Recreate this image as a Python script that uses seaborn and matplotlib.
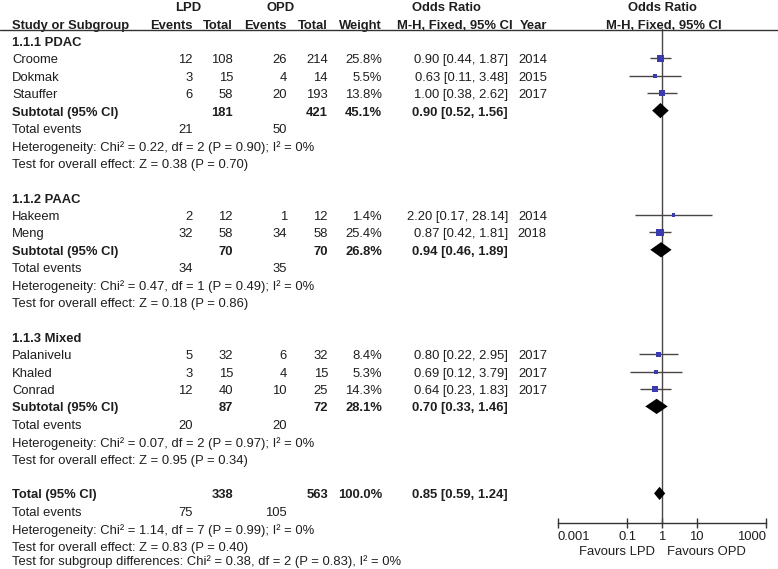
import matplotlib
matplotlib.use("Agg")
import matplotlib.pyplot as plt
import matplotlib.transforms as mtrans
import pandas as pd
import seaborn as sns

# study level data
studies = ["Croome", "Dokmak", "Stauffer", "Hakeem", "Meng", "Palanivelu", "Khaled", "Conrad"]
study_group = [0, 0, 0, 1, 1, 2, 2, 2]
lpd_events = [12, 3, 6, 2, 32, 5, 3, 12]
lpd_total = [108, 15, 58, 12, 58, 32, 15, 40]
opd_events = [26, 4, 20, 1, 34, 6, 4, 10]
opd_total = [214, 14, 193, 12, 58, 32, 15, 25]
weights = [25.8, 5.5, 13.8, 1.4, 25.4, 8.4, 5.3, 14.3]
odds = [0.90, 0.63, 1.00, 2.20, 0.87, 0.80, 0.69, 0.64]
ci_low = [0.44, 0.11, 0.38, 0.17, 0.42, 0.22, 0.12, 0.23]
ci_high = [1.87, 3.48, 2.62, 28.14, 1.81, 2.95, 3.79, 1.83]
years = [2014, 2015, 2017, 2014, 2018, 2017, 2017, 2017]

# subgroup data
sub_names = ["1.1.1 PDAC", "1.1.2 PAAC", "1.1.3 Mixed"]
sub_lpd_total = [181, 70, 87]
sub_opd_total = [421, 70, 72]
sub_weight = [45.1, 26.8, 28.1]
sub_or = [0.90, 0.94, 0.70]
sub_low = [0.52, 0.46, 0.33]
sub_high = [1.56, 1.89, 1.46]
sub_lpd_events = [21, 34, 20]
sub_opd_events = [50, 35, 20]
sub_chi = [0.22, 0.47, 0.07]
sub_df = [2, 1, 2]
sub_p_het = [0.90, 0.49, 0.97]
sub_i2 = [0, 0, 0]
sub_z = [0.38, 0.18, 0.95]
sub_p_z = [0.70, 0.86, 0.34]

# overall
tot_lpd_total, tot_opd_total, tot_weight = 338, 563, 100.0
tot_or, tot_low, tot_high = 0.85, 0.59, 1.24
tot_lpd_events, tot_opd_events = 75, 105
tot_chi, tot_df, tot_p_het, tot_i2 = 1.14, 7, 0.99, 0
tot_z, tot_p_z = 0.83, 0.40
diff_chi, diff_df, diff_p, diff_i2 = 0.38, 2, 0.83, 0

xticks = [0.001, 0.1, 1, 10, 1000]
xtick_labels = ["0.001", "0.1", "1", "10", "1000"]

sns.set_theme(style="white")
plt.rcParams['font.family'] = ['Liberation Sans', 'DejaVu Sans']

W, H = 778, 569
FS = 9.4
fig = plt.figure(figsize=(W / 100, H / 100), dpi=100)

# row r sits at y = 6.2 + 17.4 r pixels
def row_of(px):
    return (px - 6.2) / 17.4

ax = fig.add_axes([558 / W, 0, 208 / W, 1])
ax.set_xscale("log")
ax.set_xlim(0.001, 1000)
ax.set_ylim(row_of(H), row_of(0))
ax.patch.set_alpha(0)

tr = mtrans.blended_transform_factory(fig.transFigure, ax.transData)
txt_col = "#1e1e1e"
shift = 2 / 17.4  # text sits a touch lower than the row centre


def put(xpx, row, s, ha="left", bold=False):
    ax.text(xpx / W, row + shift, s, transform=tr, ha=ha, va="center", fontsize=FS,
            fontweight="bold" if bold else "normal", color=txt_col, clip_on=False)


# headers
put(188, 0, "LPD", ha="center", bold=True)
put(281, 0, "OPD", ha="center", bold=True)
put(446, 0, "Odds Ratio", ha="center", bold=True)
put(662, 0, "Odds Ratio", ha="center", bold=True)
put(12, 1, "Study or Subgroup", bold=True)
put(193, 1, "Events", ha="right", bold=True)
put(233, 1, "Total", ha="right", bold=True)
put(287, 1, "Events", ha="right", bold=True)
put(328, 1, "Total", ha="right", bold=True)
put(382, 1, "Weight", ha="right", bold=True)
put(455, 1, "M-H, Fixed, 95% CI", ha="center", bold=True)
put(547, 1, "Year", ha="right", bold=True)
put(664, 1, "M-H, Fixed, 95% CI", ha="center", bold=True)

header_row = row_of(29.5)
axis_row = row_of(523)
fig.add_artist(plt.Line2D([0, 1], [1 - 29.5 / H] * 2, color="#333333", lw=1.0))

study_rows = []
start = 2
for g, name in enumerate(sub_names):
    put(12, start, name, bold=True)
    r = start + 1
    for i in range(len(studies)):
        if study_group[i] != g:
            continue
        study_rows.append(r)
        put(12, r, studies[i])
        put(193, r, str(lpd_events[i]), ha="right")
        put(233, r, str(lpd_total[i]), ha="right")
        put(287, r, str(opd_events[i]), ha="right")
        put(328, r, str(opd_total[i]), ha="right")
        put(382, r, f"{weights[i]:.1f}%", ha="right")
        put(508, r, f"{odds[i]:.2f} [{ci_low[i]:.2f}, {ci_high[i]:.2f}]", ha="right")
        put(547, r, str(years[i]), ha="right")
        r += 1
    put(12, r, "Subtotal (95% CI)", bold=True)
    put(233, r, str(sub_lpd_total[g]), ha="right", bold=True)
    put(328, r, str(sub_opd_total[g]), ha="right", bold=True)
    put(382, r, f"{sub_weight[g]:.1f}%", ha="right", bold=True)
    put(508, r, f"{sub_or[g]:.2f} [{sub_low[g]:.2f}, {sub_high[g]:.2f}]", ha="right", bold=True)
    ax.fill([sub_low[g], sub_or[g], sub_high[g], sub_or[g]],
            [r, r - 0.44, r, r + 0.44], color="black", lw=0, zorder=4)
    put(12, r + 1, "Total events")
    put(193, r + 1, str(sub_lpd_events[g]), ha="right")
    put(287, r + 1, str(sub_opd_events[g]), ha="right")
    put(12, r + 2, f"Heterogeneity: Chi² = {sub_chi[g]:.2f}, df = {sub_df[g]} "
                   f"(P = {sub_p_het[g]:.2f}); I² = {sub_i2[g]}%")
    put(12, r + 3, f"Test for overall effect: Z = {sub_z[g]:.2f} (P = {sub_p_z[g]:.2f})")
    start = r + 5

# overall rows
r = start
put(12, r, "Total (95% CI)", bold=True)
put(233, r, str(tot_lpd_total), ha="right", bold=True)
put(328, r, str(tot_opd_total), ha="right", bold=True)
put(382, r, f"{tot_weight:.1f}%", ha="right", bold=True)
put(508, r, f"{tot_or:.2f} [{tot_low:.2f}, {tot_high:.2f}]", ha="right", bold=True)
ax.fill([tot_low, tot_or, tot_high, tot_or], [r, r - 0.38, r, r + 0.38],
        color="black", lw=0, zorder=4)
put(12, r + 1, "Total events")
put(193, r + 1, str(tot_lpd_events), ha="right")
put(287, r + 1, str(tot_opd_events), ha="right")
put(12, r + 2, f"Heterogeneity: Chi² = {tot_chi:.2f}, df = {tot_df} "
               f"(P = {tot_p_het:.2f}); I² = {tot_i2}%")
put(12, r + 3, f"Test for overall effect: Z = {tot_z:.2f} (P = {tot_p_z:.2f})")
# last line kept just inside the bottom edge
put(12, r + 4 - 0.2, f"Test for subgroup differences: Chi² = {diff_chi:.2f}, df = {diff_df} "
                     f"(P = {diff_p:.2f}), I² = {diff_i2}%")

# forest marks
ax.plot([1, 1], [header_row, axis_row], color="#4a4444", lw=1.0, zorder=1)
ax.hlines(study_rows, ci_low, ci_high, color="#4a4444", lw=1.0, zorder=2)
df = pd.DataFrame({"odds": odds, "row": study_rows, "weight": weights})
sns.scatterplot(data=df, x="odds", y="row", size="weight", marker="s",
                sizes=(1.2 * min(weights) + 3, 1.2 * max(weights)), color="#3b3bb0",
                edgecolor="none", legend=False, ax=ax, zorder=3)
ax.set_xlabel("")
ax.set_ylabel("")
ax.set_yticks([])

# axis
for side in ["top", "left", "right"]:
    ax.spines[side].set_visible(False)
ax.spines["bottom"].set_position(("data", axis_row))
ax.spines["bottom"].set_bounds(0.001, 1000)
ax.spines["bottom"].set_color("#333333")
ax.spines["bottom"].set_linewidth(1.0)
ax.set_xticks(xticks)
ax.set_xticklabels(xtick_labels)
ax.minorticks_off()
ax.tick_params(axis="x", direction="inout", length=7, width=1.0, color="#333333",
               pad=2, labelsize=FS, labelcolor=txt_col, bottom=True)
labs = ax.get_xticklabels()
labs[0].set_ha("left")
labs[-1].set_ha("right")

put(655, row_of(552) - shift, "Favours LPD", ha="right")
put(667, row_of(552) - shift, "Favours OPD", ha="left")

fig.savefig("out.png", dpi=100, facecolor="white")
